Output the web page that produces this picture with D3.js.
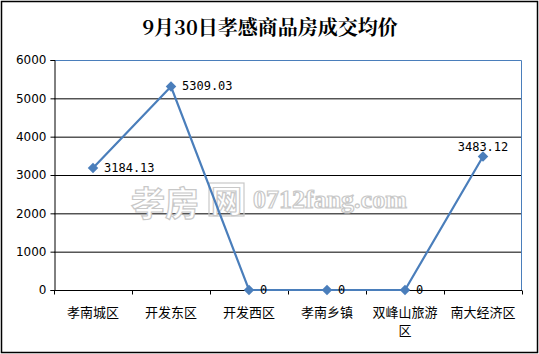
<!DOCTYPE html>
<html>
<head>
<meta charset="utf-8">
<script src="https://cdn.jsdelivr.net/npm/d3@7"></script>
<style>
  body { margin: 0; background: #fff; }
  text { font-family: "Noto Sans CJK SC", "DejaVu Sans", sans-serif; }
</style>
</head>
<body>
<script>
/* ------------------------------- chart data ------------------------------- */
const categories = ["孝南城区", "开发东区", "开发西区", "孝南乡镇", "双峰山旅游区", "南大经济区"];
const prices = [3184.13, 5309.03, 0, 0, 0, 3483.12];
const priceLabels = ["3184.13", "5309.03", "0", "0", "0", "3483.12"];
const yTicks = [0, 1000, 2000, 3000, 4000, 5000, 6000];

/* ------------------------------ document size ----------------------------- */
const width = 539, height = 354;
const margin = { top: 60, right: 17, bottom: 64, left: 54 };
const blue = "#4a7ebb";

const svg = d3.select("body").append("svg")
    .attr("width", width).attr("height", height);

// outer frame
svg.append("rect")
    .attr("x", 1.5).attr("y", 1.5)
    .attr("width", width - 3).attr("height", height - 3)
    .attr("fill", "#fff").attr("stroke", "#000").attr("stroke-width", 1.5);

// title
svg.append("text")
    .attr("x", 270).attr("y", 35)
    .attr("text-anchor", "middle")
    .style("font-size", "20px").style("font-weight", "bold")
    .style("font-family", "'Noto Serif CJK SC', 'Noto Sans CJK SC', serif")
    .text("9月30日孝感商品房成交均价");

/* --------------------------------- scales --------------------------------- */
const x = d3.scaleBand().domain(categories)
    .range([margin.left, width - margin.right]);
const y = d3.scaleLinear().domain([0, 6000])
    .range([height - margin.bottom, margin.top]);

// grid lines
svg.append("g").selectAll("line").data(yTicks.filter(d => d > 0 && d < 6000)).enter()
    .append("line")
    .attr("x1", margin.left).attr("x2", width - margin.right)
    .attr("y1", d => y(d) + 0.5).attr("y2", d => y(d) + 0.5)
    .attr("stroke", "#000").attr("stroke-width", 1);

// plot area border (top, right)
svg.append("path")
    .attr("d", `M${margin.left},${y(6000) + 0.5}H${width - margin.right - 0.5}V${y(0)}`)
    .attr("fill", "none").attr("stroke", blue).attr("stroke-width", 1);

/* ------------------------------- watermark -------------------------------- */
const wm = svg.append("g").attr("fill", "#fff").attr("stroke", "#c8c8c8").attr("stroke-width", 1.2);
wm.append("text").attr("x", 131).attr("y", 216)
    .style("font-size", "34px").style("font-weight", "bold").text("孝房");
wm.append("rect").attr("x", 209).attr("y", 183).attr("width", 35).attr("height", 33)
    .attr("fill", "none");
wm.append("text").attr("x", 211).attr("y", 212)
    .style("font-size", "31px").style("font-weight", "bold").text("网");
wm.append("text").attr("x", 253).attr("y", 208)
    .style("font-size", "26px").style("font-weight", "bold")
    .style("font-family", "'Liberation Serif', serif").text("0712fang.com");

/* ---------------------------------- axes ---------------------------------- */
const yAxis = d3.axisLeft(y).tickValues(yTicks).tickFormat(d3.format("d")).tickSize(4).tickPadding(4);
svg.append("g")
    .attr("transform", `translate(${margin.left + 0.5},0)`)
    .call(yAxis)
    .call(g => g.selectAll("text").style("font-size", "12px").style("font-family", "'DejaVu Sans', sans-serif").attr("fill", "#000"))
    .call(g => g.selectAll("line, path").attr("stroke", "#000"));

const xAxis = svg.append("g")
    .attr("transform", `translate(0,${y(0) + 0.5})`);
xAxis.append("line")
    .attr("x1", margin.left).attr("x2", width - margin.right)
    .attr("stroke", "#000");
xAxis.selectAll(".tick").data(d3.range(categories.length + 1)).enter()
    .append("line")
    .attr("x1", i => margin.left + i * x.bandwidth() + 0.5)
    .attr("x2", i => margin.left + i * x.bandwidth() + 0.5)
    .attr("y1", 0).attr("y2", 4)
    .attr("stroke", "#000");

// category labels (wrapped at 5 characters)
const catLabel = svg.append("g").selectAll("text").data(categories).enter()
    .append("text")
    .attr("text-anchor", "middle")
    .style("font-size", "13px")
    .attr("fill", "#000");
catLabel.each(function (d) {
    const lines = d.length > 5 ? [d.slice(0, 5), d.slice(5)] : [d];
    const t = d3.select(this);
    lines.forEach((s, i) => {
        t.append("tspan")
            .attr("x", x(d) + x.bandwidth() / 2)
            .attr("y", 317 + i * 18)
            .text(s);
    });
});

/* ---------------------------------- line ---------------------------------- */
const line = d3.line()
    .x((d, i) => x(categories[i]) + x.bandwidth() / 2)
    .y(d => y(d));

svg.append("path")
    .datum(prices)
    .attr("d", line)
    .attr("fill", "none")
    .attr("stroke", blue)
    .attr("stroke-width", 2.2);

svg.append("g").selectAll("path").data(prices).enter()
    .append("path")
    .attr("d", d3.symbol(d3.symbolDiamond2, 70))
    .attr("transform", (d, i) => `translate(${x(categories[i]) + x.bandwidth() / 2},${y(d)})`)
    .attr("fill", blue);

// data labels
svg.append("g").selectAll("text").data(prices).enter()
    .append("text")
    .attr("x", (d, i) => x(categories[i]) + x.bandwidth() / 2 + (i === 5 ? 0 : 11))
    .attr("y", (d, i) => i === 5 ? y(d) - 5 : y(d) + 4)
    .attr("text-anchor", (d, i) => i === 5 ? "middle" : "start")
    .style("font-size", "12px")
    .style("font-family", "'DejaVu Sans Mono', monospace")
    .attr("fill", "#000")
    .text((d, i) => priceLabels[i]);
</script>
</body>
</html>
